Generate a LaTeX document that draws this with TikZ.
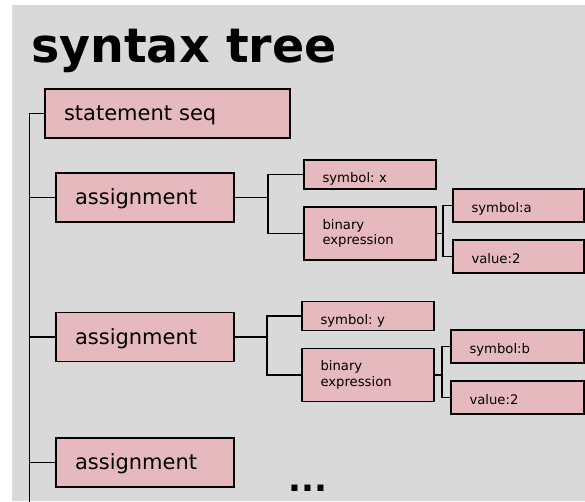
\documentclass[tikz,border=0pt]{standalone}
\usepackage{fontspec}
\setmainfont{DejaVu Sans}
\definecolor{panelgray}{RGB}{217,217,217}
\definecolor{boxpink}{RGB}{230,185,190}
\frenchspacing
\begin{document}
\begin{tikzpicture}[x=1pt,y=-1pt,
  box/.style={draw=black, line width=1.7pt, fill=boxpink, inner ysep=0pt, align=left},
  bigbox/.style={box, font=\fontsize{21}{25}\selectfont, inner xsep=19pt,
    text width=#1-38pt, minimum height=49pt, text height=14pt, text depth=0pt},
  symbox/.style={box, font=\fontsize{13.2}{15.5}\selectfont, inner xsep=18.5pt,
    text width=#1-37pt, minimum height=29pt, text height=16.8pt, text depth=0pt},
  leafbox/.style={box, font=\fontsize{13.2}{15.5}\selectfont, inner xsep=18.5pt,
    text width=#1-37pt, minimum height=33pt, text height=13.6pt, text depth=0pt},
  exprbox/.style={box, font=\fontsize{13.2}{15.5}\selectfont, inner xsep=18.5pt,
    text width=#1-37pt, minimum height=53pt},
  wire/.style={draw=black, line width=1.5pt}]
  \useasboundingbox (0,0) rectangle (585,502);
  \fill[panelgray] (12,5) rectangle (585,501);

  % title
  \node[font=\fontsize{47.5}{50}\selectfont\bfseries, anchor=base west, inner sep=0pt]
    (title) at (31,63) {syntax tree};

  % top level
  \node[bigbox=245pt] (ss) at (167.5,113.5) {statement seq};
  \node[bigbox=178pt] (a1) at (145,197.5) {assignment};
  \node[bigbox=178pt] (a2) at (145,337) {assignment};
  \node[bigbox=178pt] (a3) at (145,462.5) {assignment};

  % first assignment
  \node[symbox=132pt]  (sx) at (370,174.5) {symbol: x};
  \node[exprbox=132pt] (b1) at (370,233.5) {binary\\expression};
  \node[leafbox=131pt] (sa) at (518.5,205.5) {symbol:a};
  \node[leafbox=131pt] (v1) at (518.5,256.5) {value:2};

  % second assignment
  \node[symbox=132pt]  (sy) at (368,316) {symbol: y};
  \node[exprbox=132pt] (b2) at (368,375) {binary\\expression};
  \node[leafbox=133pt] (sb) at (517.5,346.5) {symbol:b};
  \node[leafbox=133pt] (v2) at (517.5,397.5) {value:2};

  % ellipsis
  \node[font=\fontsize{34}{36}\selectfont\bfseries, anchor=base west, inner sep=0pt]
    (more) at (288,491) {...};

  % joints of the tree
  \coordinate (trunk) at (29.5,0);
  \coordinate (trunkend) at (29.5,502);
  \coordinate (j1) at (268,0);
  \coordinate (j2) at (443,0);
  \coordinate (j3) at (267,0);
  \coordinate (j4) at (442,0);

  % trunk
  \draw[wire] (ss.west) -| (trunkend);
  \draw[wire] (a1.west) -- (a1.west -| trunk);
  \draw[wire] (a2.west) -- (a2.west -| trunk);
  \draw[wire] (a3.west) -- (a3.west -| trunk);

  % first assignment branches
  \draw[wire] (a1.east) -- (a1.east -| j1);
  \draw[wire] (sx.west) -| (j1 |- b1.west) -- (b1.west);
  \draw[wire] (b1.east) -- (b1.east -| j2);
  \draw[wire] (sa.west) -| (j2 |- v1.west) -- (v1.west);

  % second assignment branches
  \draw[wire] (a2.east) -- (a2.east -| j3);
  \draw[wire] (sy.west) -| (j3 |- b2.west) -- (b2.west);
  \draw[wire] (b2.east) -- (b2.east -| j4);
  \draw[wire] (sb.west) -| (j4 |- v2.west) -- (v2.west);
\end{tikzpicture}
\end{document}
